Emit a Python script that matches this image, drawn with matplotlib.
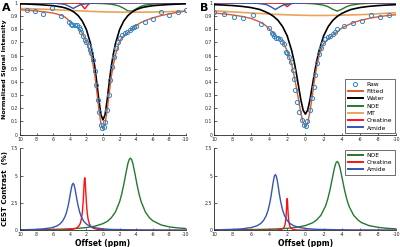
import numpy as np
import matplotlib
matplotlib.use('Agg')
import matplotlib.pyplot as plt

plt.rcParams['font.family'] = 'DejaVu Sans'

# ---- colours
C_RAW = '#2f86c9'
C_FIT = '#e0582a'
C_WATER = '#000000'
C_NOE = '#237a2c'
C_MT = '#e8a45c'
C_CR = '#ff1010'
C_AMIDE = '#3653b8'

# ---- top panels: Z-spectra (shared offset grid for fit / water / MT)
top_ppm = [10, 9, 8, 7, 6, 5, 4.5, 4, 3.5, 3, 2.5, 2, 1.5, 1.25, 1, 0.75, 0.5, 0.25, 0,
           -0.25, -0.5, -0.75, -1, -1.25, -1.5, -2, -2.5, -3, -3.5, -4, -4.5, -5, -6, -7, -8, -9, -10]

# panel A
raw_a_ppm = [9.2, 8.2, 7.2, 6.1, 5.1, 4.1, 3.9, 3.7, 3.4, 3.1, 2.9, 2.8, 2.6, 2.4, 2.2, 2.0, 1.7, 1.6,
             1.4, 1.2, 1.0, 0.8, 0.6, 0.5, 0.3, 0.1, -0.1, -0.3, -0.45, -0.7, -0.9, -1.1, -1.3, -1.6,
             -1.8, -2.0, -2.3, -2.6, -2.9, -3.2, -3.5, -3.7, -4.0, -5.0, -6.0, -7.0, -8.0, -9.0, -10.0]
raw_a = [0.945, 0.937, 0.914, 0.957, 0.900, 0.856, 0.840, 0.830, 0.830, 0.834, 0.820, 0.800, 0.776,
         0.748, 0.720, 0.705, 0.670, 0.640, 0.617, 0.567, 0.486, 0.378, 0.265, 0.170, 0.076, 0.050,
         0.055, 0.093, 0.190, 0.300, 0.415, 0.516, 0.590, 0.655, 0.700, 0.730, 0.756, 0.768, 0.780,
         0.793, 0.810, 0.820, 0.826, 0.856, 0.880, 0.927, 0.907, 0.927, 0.945]
fit_a = [0.947, 0.943, 0.938, 0.931, 0.922, 0.905, 0.888, 0.858, 0.828, 0.812, 0.770, 0.703, 0.625,
         0.550, 0.460, 0.330, 0.195, 0.085, 0.045, 0.080, 0.185, 0.315, 0.440, 0.530, 0.605, 0.710,
         0.752, 0.775, 0.800, 0.828, 0.848, 0.862, 0.886, 0.903, 0.916, 0.928, 0.938]
water_a = [0.992, 0.990, 0.987, 0.983, 0.978, 0.968, 0.960, 0.948, 0.930, 0.903, 0.862, 0.797, 0.690,
           0.612, 0.520, 0.395, 0.262, 0.152, 0.112, 0.152, 0.262, 0.395, 0.520, 0.612, 0.690, 0.797,
           0.862, 0.903, 0.930, 0.948, 0.960, 0.968, 0.978, 0.983, 0.987, 0.990, 0.992]
mt_a = [0.957, 0.955, 0.953, 0.951, 0.948, 0.945, 0.944, 0.942, 0.941, 0.939, 0.938, 0.936, 0.935,
        0.934, 0.934, 0.933, 0.933, 0.932, 0.932, 0.931, 0.931, 0.931, 0.930, 0.930, 0.930, 0.929,
        0.929, 0.929, 0.929, 0.929, 0.929, 0.929, 0.930, 0.931, 0.933, 0.935, 0.937]
noe_a_ppm = [10, 4, 2, 1, 0, -0.5, -1, -1.5, -2, -2.5, -3, -3.5, -4, -4.5, -5, -6, -7, -8, -9, -10]
noe_a = [1.0, 0.999, 0.9975, 0.996, 0.994, 0.992, 0.989, 0.983, 0.974, 0.958, 0.939, 0.936, 0.954,
         0.971, 0.982, 0.991, 0.995, 0.997, 0.998, 0.998]
cr_a_ppm = [10, 3.2, 2.7, 2.2, 1.7, 1.2, -10]
cr_a = [1.0, 0.998, 0.993, 0.954, 0.993, 0.998, 1.0]
amide_a_ppm = [10, 7, 5.6, 4.6, 4.1, 3.6, 3.1, 2.6, 1.6, 0, -10]
amide_a = [1.0, 0.9986, 0.996, 0.988, 0.974, 0.957, 0.974, 0.988, 0.996, 0.9987, 1.0]

# panel B
raw_b_ppm = [10, 8.9, 7.9, 6.9, 5.8, 4.9, 4.0, 3.7, 3.6, 3.5, 3.2, 3.0, 2.8, 2.6, 2.3, 2.1, 2.0, 1.8,
             1.6, 1.4, 1.25, 1.1, 0.9, 0.65, 0.4, 0.15, -0.05, -0.2, -0.5, -0.74, -0.9, -1.07, -1.25,
             -1.5, -1.7, -1.9, -2.2, -2.5, -2.7, -3.0, -3.3, -3.5, -4.2, -5.2, -6.2, -7.2, -8.25, -9.2]
raw_b = [0.927, 0.912, 0.889, 0.882, 0.907, 0.839, 0.806, 0.773, 0.761, 0.748, 0.735, 0.730, 0.723,
         0.705, 0.685, 0.630, 0.617, 0.590, 0.554, 0.490, 0.420, 0.340, 0.250, 0.170, 0.110, 0.070,
         0.068, 0.100, 0.189, 0.277, 0.365, 0.453, 0.540, 0.612, 0.655, 0.693, 0.723, 0.738, 0.748,
         0.761, 0.781, 0.798, 0.824, 0.849, 0.864, 0.907, 0.889, 0.907]
fit_b = [0.922, 0.916, 0.908, 0.897, 0.882, 0.855, 0.835, 0.805, 0.765, 0.738, 0.710, 0.635, 0.530,
         0.450, 0.360, 0.265, 0.165, 0.090, 0.063, 0.090, 0.175, 0.290, 0.420, 0.520, 0.600, 0.690,
         0.728, 0.755, 0.780, 0.808, 0.826, 0.842, 0.866, 0.882, 0.894, 0.903, 0.910]
water_b = [0.986, 0.983, 0.979, 0.973, 0.964, 0.949, 0.935, 0.919, 0.897, 0.866, 0.819, 0.749, 0.636,
           0.560, 0.468, 0.366, 0.264, 0.186, 0.156, 0.186, 0.264, 0.366, 0.468, 0.560, 0.636, 0.749,
           0.819, 0.866, 0.897, 0.919, 0.935, 0.949, 0.964, 0.973, 0.979, 0.983, 0.986]
mt_b = [0.938, 0.935, 0.931, 0.927, 0.923, 0.919, 0.917, 0.915, 0.913, 0.912, 0.910, 0.909, 0.908,
        0.907, 0.907, 0.906, 0.906, 0.905, 0.905, 0.905, 0.904, 0.904, 0.904, 0.904, 0.904, 0.904,
        0.904, 0.905, 0.905, 0.906, 0.907, 0.908, 0.910, 0.913, 0.917, 0.921, 0.925]
noe_b_ppm = [10, 6, 4, 2, 1, 0, -1, -2, -2.5, -3, -3.5, -4, -4.5, -5, -6, -7, -8, -10]
noe_b = [1.0, 0.9994, 0.999, 0.998, 0.997, 0.996, 0.992, 0.982, 0.970, 0.951, 0.937, 0.951, 0.970,
         0.982, 0.992, 0.996, 0.997, 0.998]
cr_b_ppm = [10, 2.5, 2.0, 1.5, -10]
cr_b = [1.0, 0.998, 0.971, 0.998, 1.0]
amide_b_ppm = [10, 6.8, 5.3, 4.3, 3.8, 3.3, 2.8, 2.3, 1.3, 0, -10]
amide_b = [1.0, 0.9985, 0.996, 0.9865, 0.970, 0.949, 0.970, 0.9865, 0.996, 0.9986, 1.0]

# ---- bottom panels: CEST contrast (%)
noe_c_ppm = [10, 8, 6, 4, 3, 2, 1, 0, -0.5, -1, -1.5, -2, -2.25, -2.5, -2.75, -3, -3.15, -3.3,
             -3.45, -3.6, -3.85, -4.1, -4.35, -4.6, -5.1, -5.6, -6, -7, -8, -9, -10]
noe_c = [0.04, 0.057, 0.083, 0.134, 0.178, 0.25, 0.37, 0.61, 0.81, 1.14, 1.68, 2.61, 3.30, 4.18,
         5.18, 6.11, 6.47, 6.60, 6.47, 6.11, 5.18, 4.18, 3.30, 2.61, 1.68, 1.14, 0.87, 0.49, 0.31,
         0.22, 0.16]
cr_c_ppm = [10, 6.2, 4.7, 3.7, 3.2, 2.95, 2.75, 2.6, 2.5, 2.4, 2.35, 2.3, 2.25, 2.2, 2.15, 2.1,
            2.05, 2.0, 1.9, 1.8, 1.65, 1.45, 1.2, 0.7, -0.3, -1.8, -10]
cr_c = [0.003, 0.013, 0.034, 0.092, 0.20, 0.35, 0.61, 1.04, 1.58, 2.51, 3.18, 3.91, 4.54, 4.80,
        4.54, 3.91, 3.18, 2.51, 1.58, 1.04, 0.61, 0.35, 0.20, 0.092, 0.034, 0.013, 0.001]
amide_c_ppm = [10, 8, 7.2, 6.2, 5.6, 5.2, 4.9, 4.6, 4.4, 4.2, 4.05, 3.9, 3.8, 3.7, 3.6, 3.5, 3.4,
               3.3, 3.15, 3.0, 2.8, 2.6, 2.3, 2.0, 1.6, 1.0, 0, -1, -5, -10]
amide_c = [0.04, 0.085, 0.13, 0.23, 0.38, 0.57, 0.81, 1.21, 1.63, 2.24, 2.83, 3.49, 3.90, 4.19,
           4.30, 4.19, 3.90, 3.49, 2.83, 2.24, 1.63, 1.21, 0.81, 0.57, 0.38, 0.23, 0.13, 0.078,
           0.023, 0.009]

noe_d_ppm = [10, 8, 6, 4, 3, 2, 1, 0, -0.8, -1.2, -1.7, -2.2, -2.45, -2.7, -2.95, -3.2, -3.35, -3.5,
             -3.65, -3.8, -4.05, -4.3, -4.55, -4.8, -5.3, -5.8, -6.2, -7, -8, -9, -10]
noe_d = [0.031, 0.043, 0.062, 0.10, 0.13, 0.18, 0.27, 0.43, 0.69, 0.92, 1.37, 2.19, 2.84, 3.69,
         4.72, 5.73, 6.15, 6.30, 6.15, 5.73, 4.72, 3.69, 2.84, 2.19, 1.37, 0.92, 0.69, 0.43, 0.27,
         0.18, 0.13]
cr_d_ppm = [10, 4.5, 3.2, 2.7, 2.45, 2.3, 2.2, 2.15, 2.11, 2.08, 2.04, 2.0, 1.96, 1.92, 1.89, 1.85,
            1.8, 1.7, 1.55, 1.3, 0.8, -0.5, -10]
cr_d = [0.0, 0.006, 0.024, 0.07, 0.16, 0.35, 0.67, 1.01, 1.45, 1.90, 2.56, 2.90, 2.56, 1.90, 1.45,
        1.01, 0.67, 0.35, 0.16, 0.07, 0.024, 0.006, 0.0]
amide_d_ppm = [10, 8, 6.9, 5.9, 5.3, 4.9, 4.6, 4.3, 4.1, 3.9, 3.75, 3.6, 3.5, 3.4, 3.3, 3.2, 3.1,
               3.0, 2.85, 2.7, 2.5, 2.3, 2.0, 1.7, 1.3, 0.7, -0.3, -1.3, -5, -10]
amide_d = [0.04, 0.082, 0.14, 0.26, 0.42, 0.63, 0.90, 1.35, 1.84, 2.55, 3.26, 4.08, 4.59, 4.96,
           5.10, 4.96, 4.59, 4.08, 3.26, 2.55, 1.84, 1.35, 0.90, 0.63, 0.42, 0.26, 0.14, 0.085,
           0.027, 0.01]

x_ticks = [10, 8, 6, 4, 2, 0, -2, -4, -6, -8, -10]
z_ticks = [0, 0.1, 0.2, 0.3, 0.4, 0.5, 0.6, 0.7, 0.8, 0.9, 1]
z_labels = ['0', '0.1', '0.2', '0.3', '0.4', '0.5', '0.6', '0.7', '0.8', '0.9', '1']
c_ticks = [0, 2.5, 5, 7.5]
c_labels = ['0', '2.5', '5', '7.5']

fig = plt.figure(figsize=(4, 2.47), dpi=100)
ax_a = fig.add_axes([0.05, 0.4547, 0.415, 0.534])
ax_b = fig.add_axes([0.536, 0.4547, 0.455, 0.534])
ax_c = fig.add_axes([0.05, 0.0676, 0.415, 0.332])
ax_d = fig.add_axes([0.536, 0.0676, 0.455, 0.332])


def style(ax, yt, yl, ymax):
    ax.set_xlim(10, -10)
    ax.set_ylim(0, ymax)
    ax.set_xticks(x_ticks)
    ax.set_xticklabels([str(t) for t in x_ticks])
    ax.set_yticks(yt)
    ax.set_yticklabels(yl)
    for s in ['top', 'right']:
        ax.spines[s].set_visible(False)
    for s in ['left', 'bottom']:
        ax.spines[s].set_linewidth(0.6)
        ax.spines[s].set_color('#262626')
    ax.tick_params(direction='in', length=1.8, width=0.5, labelsize=3.3, pad=1.5, colors='#262626')


lw = 1.0
for ax, rp, rv, fv, wv, mv, npp, nv, cp, cv, ap, av in [
        (ax_a, raw_a_ppm, raw_a, fit_a, water_a, mt_a, noe_a_ppm, noe_a, cr_a_ppm, cr_a, amide_a_ppm, amide_a),
        (ax_b, raw_b_ppm, raw_b, fit_b, water_b, mt_b, noe_b_ppm, noe_b, cr_b_ppm, cr_b, amide_b_ppm, amide_b)]:
    ax.plot(rp, rv, 'o', mfc='none', mec=C_RAW, ms=3.0, mew=0.7, label='Raw', zorder=5)
    ax.plot(top_ppm, fv, color=C_FIT, lw=lw, label='Fitted', zorder=4)
    ax.plot(top_ppm, wv, color=C_WATER, lw=1.2, label='Water', zorder=3)
    ax.plot(npp, nv, color=C_NOE, lw=lw, label='NOE')
    ax.plot(top_ppm, mv, color=C_MT, lw=1.2, label='MT')
    ax.plot(cp, cv, color=C_CR, lw=lw, label='Creatine')
    ax.plot(ap, av, color=C_AMIDE, lw=lw, label='Amide')
    style(ax, z_ticks, z_labels, 1)

for ax, npp, nv, cp, cv, ap, av in [
        (ax_c, noe_c_ppm, noe_c, cr_c_ppm, cr_c, amide_c_ppm, amide_c),
        (ax_d, noe_d_ppm, noe_d, cr_d_ppm, cr_d, amide_d_ppm, amide_d)]:
    ax.plot(npp, nv, color=C_NOE, lw=lw, label='NOE')
    ax.plot(cp, cv, color=C_CR, lw=lw, label='Creatine')
    ax.plot(ap, av, color=C_AMIDE, lw=lw, label='Amide')
    style(ax, c_ticks, c_labels, 7.5)
    ax.set_xlabel('Offset (ppm)', fontsize=5.5, fontweight='bold', labelpad=1)

leg = ax_b.legend(loc='lower right', fontsize=4.3, frameon=True, fancybox=False,
                  edgecolor='black', handlelength=2.6, borderpad=0.4, labelspacing=0.35,
                  handletextpad=0.6, borderaxespad=0.3)
leg.get_frame().set_linewidth(0.5)
for line in leg.get_lines()[1:]:
    line.set_linewidth(1.4)
leg2 = ax_d.legend(loc='upper right', fontsize=4.3, frameon=True, fancybox=False,
                   edgecolor='black', handlelength=2.6, borderpad=0.4, labelspacing=0.35,
                   handletextpad=0.6, borderaxespad=0.3)
leg2.get_frame().set_linewidth(0.5)
for line in leg2.get_lines():
    line.set_linewidth(1.4)

fig.text(0.012, 0.72, 'Normalized Signal Intensity', rotation=90, ha='center', va='center',
         fontsize=4.6, fontweight='bold')
fig.text(0.012, 0.235, 'CEST Contrast  (%)', rotation=90, ha='center', va='center',
         fontsize=5.0, fontweight='bold')
fig.text(0.004, 0.968, 'A', fontsize=8, fontweight='bold', ha='left', va='center')
fig.text(0.499, 0.968, 'B', fontsize=8, fontweight='bold', ha='left', va='center')

fig.savefig('out.png', dpi=100)
